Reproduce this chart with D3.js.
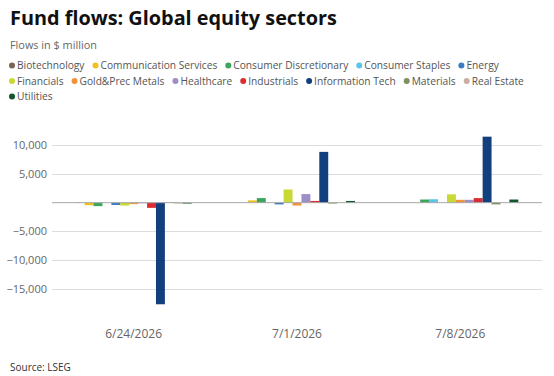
<!DOCTYPE html>
<html>
<head>
<meta charset="utf-8">
<script src="https://cdn.jsdelivr.net/npm/d3@7"></script>
<style>
  body { margin: 0; background: #fff; }
  svg text { font-family: "Open Sans", "Noto Sans", sans-serif; }
</style>
</head>
<body>
<div id="chart"></div>
<script>
// dates on the x axis
const dates = ["6/24/2026", "7/1/2026", "7/8/2026"];

// sectors, in legend / bar order
const sectors = [
    "Biotechnology", "Communication Services", "Consumer Discretionary", "Consumer Staples",
    "Energy", "Financials", "Gold&Prec Metals", "Healthcare", "Industrials",
    "Information Tech", "Materials", "Real Estate", "Utilities"
];

const sectorColors = [
    "#7b6455", "#f0c020", "#3ba55c", "#5bc4ea", "#3b7bbf", "#c8d936", "#f0943c",
    "#9e8ec8", "#dd2c30", "#123f7d", "#7f8f63", "#c8aea5", "#12572b"
];

// flows in $ million, one value per date
const biotechnology = [-50, 0, 0];
const communicationServices = [-450, 400, 0];
const consumerDiscretionary = [-600, 800, 550];
const consumerStaples = [0, 0, 600];
const energy = [-400, -300, 0];
const financials = [-500, 2300, 1450];
const goldPrecMetals = [-250, -500, 500];
const healthcare = [-100, 1500, 500];
const industrials = [-900, 300, 800];
const informationTech = [-17700, 8850, 11500];
const materials = [100, -150, -300];
const realEstate = [-150, 0, 0];
const utilities = [-150, 300, 550];

const yTicks = [-15000, -10000, -5000, 5000, 10000];

const seriesValues = [
    biotechnology, communicationServices, consumerDiscretionary, consumerStaples,
    energy, financials, goldPrecMetals, healthcare, industrials,
    informationTech, materials, realEstate, utilities
];

const width = 554, height = 376;
const plot = { left: 52, right: 542, top: 133.8, bottom: 306 };

const svg = d3.select("#chart").append("svg")
    .attr("width", width)
    .attr("height", height);

// shrink a text's font until it is as wide as the original
function fitWidth(sel, size, target) {
    sel.style("font-size", size + "px");
    const w = sel.node().getComputedTextLength();
    const s = size * target / w;
    sel.style("font-size", s + "px");
    return s;
}

// title + subtitle
const title = svg.append("text")
    .attr("x", 10).attr("y", 25)
    .style("font-weight", "700")
    .attr("fill", "#111")
    .text("Fund flows: Global equity sectors");
fitWidth(title, 22, 327);

const sub = svg.append("text")
    .attr("x", 10).attr("y", 49)
    .attr("fill", "#666")
    .text("Flows in $ million");
fitWidth(sub, 12, 87);

// legend, wrapped in three rows like the original
const rows = [[0, 5], [5, 12], [12, 13]];
const probe = svg.append("text").text("Communication Services");
const legendFont = fitWidth(probe, 12, 117);
probe.remove();

const legend = svg.append("g");
rows.forEach((r, ri) => {
    let x = 12;
    const yy = 69 + ri * 15.5;
    for (let i = r[0]; i < r[1]; i++) {
        legend.append("circle")
            .attr("cx", x).attr("cy", yy - 3.5).attr("r", 3)
            .attr("fill", sectorColors[i]);
        const t = legend.append("text")
            .attr("x", x + 5).attr("y", yy)
            .style("font-size", legendFont + "px")
            .attr("fill", "#555")
            .text(sectors[i]);
        x += 5 + t.node().getComputedTextLength() + 11;
    }
});

// scales
const x0 = d3.scaleBand()
    .domain(dates)
    .range([plot.left, plot.right])
    .paddingInner(0.29)
    .paddingOuter(0.145);

const x1 = d3.scaleBand()
    .domain(sectors)
    .range([0, x0.bandwidth()]);

const y = d3.scaleLinear()
    .domain([-18000, 12000])
    .range([plot.bottom, plot.top]);

// gridlines
svg.append("g")
    .selectAll("line")
    .data(yTicks)
    .join("line")
    .attr("x1", plot.left).attr("x2", plot.right)
    .attr("y1", d => Math.round(y(d)) + 0.5)
    .attr("y2", d => Math.round(y(d)) + 0.5)
    .attr("stroke", "#dcdcdc");

// y labels
const fmt = d3.format(",");
svg.append("g")
    .selectAll("text")
    .data(yTicks)
    .join("text")
    .attr("x", 47)
    .attr("y", d => y(d) + 4)
    .attr("text-anchor", "end")
    .style("font-size", "11px")
    .attr("fill", "#666")
    .text(d => fmt(d).replace("-", "\u2212"));

// bars
const bars = [];
dates.forEach((d, di) => {
    sectors.forEach((s, si) => {
        bars.push({ date: d, sector: s, value: seriesValues[si][di], color: sectorColors[si] });
    });
});

svg.append("g")
    .selectAll("rect")
    .data(bars)
    .join("rect")
    .attr("x", d => x0(d.date) + x1(d.sector))
    .attr("width", x1.bandwidth())
    .attr("y", d => y(Math.max(0, d.value)))
    .attr("height", d => Math.abs(y(d.value) - y(0)))
    .attr("fill", d => d.color);

// zero line
svg.append("line")
    .attr("x1", plot.left).attr("x2", plot.right)
    .attr("y1", y(0)).attr("y2", y(0))
    .attr("stroke", "#a6a6a6");

// x labels
svg.append("g")
    .selectAll("text")
    .data(dates)
    .join("text")
    .attr("x", d => x0(d) + x0.bandwidth() / 2)
    .attr("y", 338)
    .attr("text-anchor", "middle")
    .style("font-size", "12px")
    .attr("fill", "#666")
    .text(d => d);

svg.append("text")
    .attr("x", 10).attr("y", 371)
    .style("font-size", "10px")
    .attr("fill", "#333")
    .text("Source: LSEG");
</script>
</body>
</html>
